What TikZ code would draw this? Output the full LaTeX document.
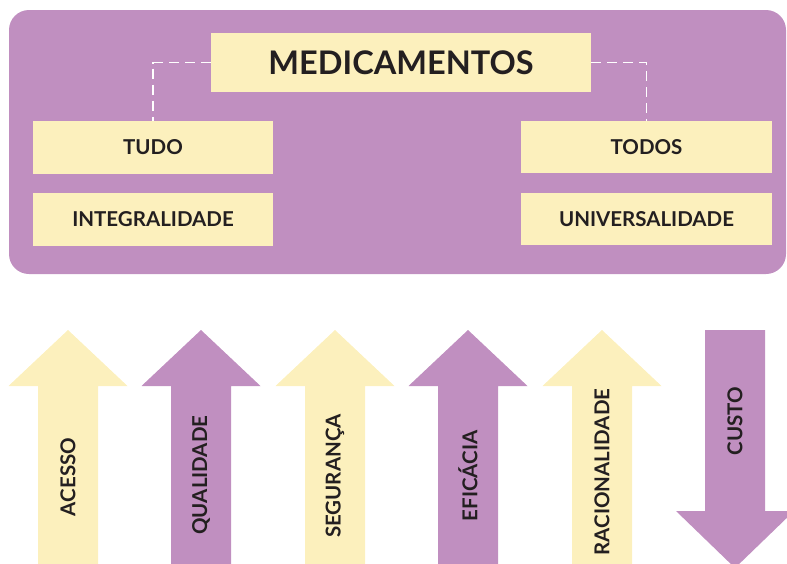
\documentclass[tikz,border=0pt]{standalone}
\usepackage{fontspec}
\setmainfont{Lato}
\definecolor{purp}{HTML}{C08FC0}
\definecolor{yel}{HTML}{FCF0BD}
\definecolor{ink}{HTML}{231F20}
\begin{document}
\begin{tikzpicture}[x=1pt,y=-1pt,
  ybox/.style={fill=yel, inner sep=0pt, text=ink, font=\bfseries\fontsize{20.5}{20.5}\selectfont},
  dline/.style={white, line width=1.5pt, dash pattern=on 10pt off 6pt},
  alabel/.style={rotate=90, text=ink, inner sep=0pt, font=\bfseries\fontsize{20.5}{20.5}\selectfont}]
\useasboundingbox (0,0) rectangle (787,563);
\fill[purp, rounded corners=20pt] (9,10) rectangle (786,274);
\node[ybox, minimum width=380pt, minimum height=59pt, font=\bfseries\fontsize{32.5}{32.5}\selectfont] (med) at (401,62.5) {MEDICAMENTOS};
\node[ybox, minimum width=240pt, minimum height=53pt] (tudo) at (153,147.5) {TUDO};
\node[ybox, minimum width=240pt, minimum height=53pt] (integ) at (153,219.5) {INTEGRALIDADE};
\node[ybox, minimum width=251pt, minimum height=52pt] (todos) at (646.5,147) {TODOS};
\node[ybox, minimum width=251pt, minimum height=52pt] (univ) at (646.5,219) {UNIVERSALIDADE};
\draw[dline] (med.west) -| (tudo.north);
\draw[dline] (med.east) -| (todos.north);
\foreach \cx/\col in {68/yel,201/purp,335/yel,468/purp,602/yel}
  \fill[\col] (\cx-30,570) -- (\cx-30,386) -- (\cx-59.5,386) -- (\cx,330) -- (\cx+59.5,386) -- (\cx+30,386) -- (\cx+30,570) -- cycle;
\fill[purp] (705,330) -- (705,511) -- (676,511) -- (735,568) -- (794,511) -- (765,511) -- (765,330) -- cycle;
\node[alabel] (acesso) at (68,477) {ACESSO};
\node[alabel] (qual) at (201,475) {QUALIDADE};
\node[alabel] (seg) at (335,476) {SEGURANÇA};
\node[alabel] (efic) at (468,476) {EFICÁCIA};
\node[alabel] (rac) at (602,472) {RACIONALIDADE};
\node[alabel] (custo) at (735,421) {CUSTO};
\end{tikzpicture}
\end{document}
